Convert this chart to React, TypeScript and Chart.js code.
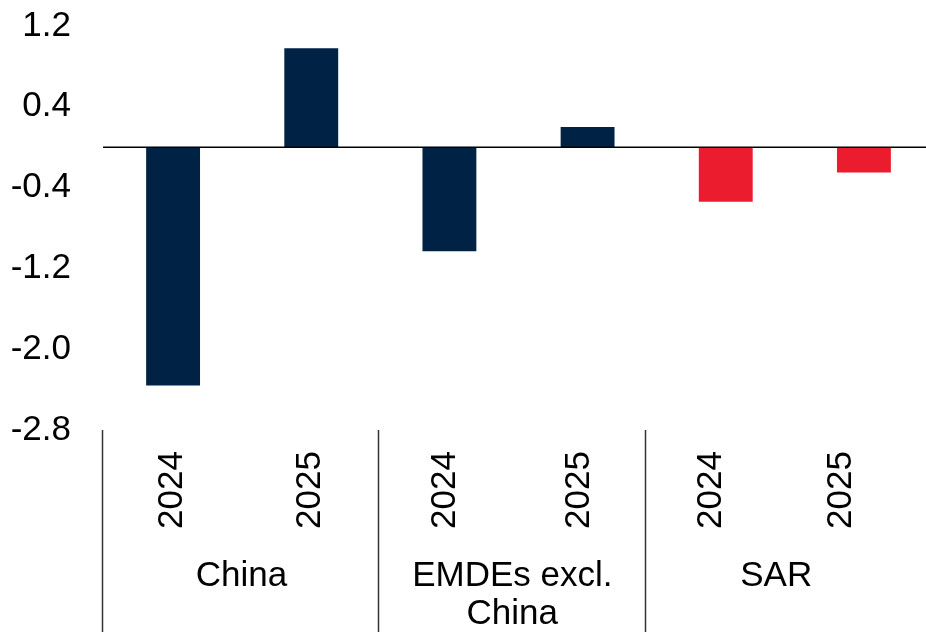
import React, { useEffect, useRef } from 'react';
import { Chart, registerables } from 'chart.js';

Chart.register(...registerables);

const categories = ['2024', '2025', '2024', '2025', '2024', '2025'];
const groupLabels: string[][] = [['China'], ['EMDEs excl.', 'China'], ['SAR']];
const values = [-2.36, 0.98, -1.03, 0.2, -0.54, -0.25];
const barColors = ['#002345', '#002345', '#002345', '#002345', '#EB1C2D', '#EB1C2D'];
const yMin = -2.8;
const yMax = 1.2;
const yStep = 0.8;
// boundaries of the category-label groups, in category-index units (label band is slightly compressed)
const groupBounds = [-0.5, 1.49, 3.42, 5.31];

const FONT = '"Liberation Sans", Arial, Helvetica, sans-serif';

const groupAxisPlugin = {
  id: 'groupAxis',
  afterDatasetsDraw(chart: any) {
    const { ctx, chartArea, scales } = chart;
    const x = scales.x;
    const y = scales.y;
    ctx.save();
    // zero line
    const y0 = y.getPixelForValue(0);
    ctx.strokeStyle = '#000';
    ctx.lineWidth = 1.5;
    ctx.beginPath();
    ctx.moveTo(chartArea.left - 1, y0);
    ctx.lineTo(chartArea.right, y0);
    ctx.stroke();

    const px = (u: number) => x.getPixelForValue(u);
    const bottom = chart.height;
    ctx.strokeStyle = '#333';
    ctx.lineWidth = 1.5;
    for (let g = 0; g < groupLabels.length; g++) {
      const sx = Math.round(px(groupBounds[g]) - (g === 0 ? 1 : 0)) - 0.5;
      ctx.beginPath();
      ctx.moveTo(sx, chartArea.bottom);
      ctx.lineTo(sx, bottom);
      ctx.stroke();
    }
    ctx.fillStyle = '#000';
    ctx.font = `35px ${FONT}`;
    categories.forEach((c, i) => {
      const g = Math.floor(i / 2);
      const a = groupBounds[g];
      const b = groupBounds[g + 1];
      const u = a + (b - a) * (i % 2 === 0 ? 0.25 : 0.75);
      ctx.save();
      ctx.translate(px(u), 490);
      ctx.rotate(-Math.PI / 2);
      ctx.textAlign = 'center';
      ctx.textBaseline = 'middle';
      ctx.fillText(c, 0, 0);
      ctx.restore();
    });
    ctx.textAlign = 'center';
    ctx.textBaseline = 'alphabetic';
    groupLabels.forEach((lines, g) => {
      const cx = px((groupBounds[g] + groupBounds[g + 1]) / 2);
      lines.forEach((ln, k) => {
        ctx.fillText(ln, cx, 586 + k * 38);
      });
    });
    ctx.restore();
  },
};

export default function App() {
  const ref = useRef<HTMLCanvasElement>(null);
  useEffect(() => {
    if (!ref.current) return;
    const chart = new Chart(ref.current, {
      type: 'bar',
      data: {
        labels: categories,
        datasets: [
          {
            data: values,
            backgroundColor: barColors,
            borderWidth: 0,
            barPercentage: 0.39,
            categoryPercentage: 1,
          },
        ],
      },
      options: {
        responsive: false,
        animation: false,
        layout: { padding: { top: 26, bottom: 202, left: 0, right: 0 } },
        plugins: { legend: { display: false }, tooltip: { enabled: false } },
        scales: {
          x: { display: false },
          y: {
            min: yMin,
            max: yMax,
            border: { display: false },
            grid: { display: false, drawTicks: false },
            ticks: {
              stepSize: yStep,
              padding: 33,
              color: '#000',
              font: { family: FONT, size: 35 },
              callback: (v: any) => Number(v).toFixed(1),
            },
            afterFit: (scale: any) => {
              scale.width = 104;
              scale.paddingTop = 0;
              scale.paddingBottom = 0;
            },
          },
        },
      },
      plugins: [groupAxisPlugin],
    });
    return () => chart.destroy();
  }, []);
  return (
    <div style={{ position: 'fixed', left: 0, top: 0, width: 926, height: 632, overflow: 'hidden', background: '#fff' }}>
      <canvas ref={ref} width={933} height={632} style={{ display: 'block' }} />
    </div>
  );
}
